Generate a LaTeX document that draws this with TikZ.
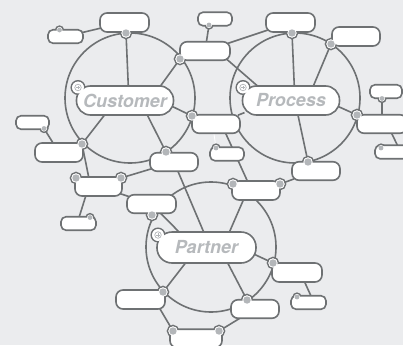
\documentclass[tikz,border=0pt]{standalone}
\usepackage{fontspec}
\newfontfamily\labelfont{TeX Gyre Heros}
\definecolor{bgc}{HTML}{EBECEE}
\definecolor{lnc}{HTML}{6E7173}
\definecolor{dotc}{HTML}{B3B6B9}
\definecolor{txc}{HTML}{B6B9BC}
\pgfdeclarelayer{bg}
\pgfdeclarelayer{ringl}
\pgfdeclarelayer{coverl}
\pgfdeclarelayer{top}
\pgfsetlayers{bg,ringl,main,coverl,top}
\tikzset{
  hub/.style={draw=lnc,fill=white,line width=1.6pt,rounded corners=14pt,minimum width=97pt,minimum height=29pt,inner sep=0pt,font=\labelfont\bfseries\itshape\fontsize{18}{18}\selectfont,text=txc},
  bbox/.style={draw=lnc,fill=white,line width=1.6pt,rounded corners=7pt,inner sep=0pt,minimum height=18.5pt},
  sbox/.style={draw=lnc,fill=white,line width=1.6pt,rounded corners=5pt,inner sep=0pt,minimum height=13.5pt},
  bdot/.style={circle,fill=dotc,inner sep=0pt,minimum size=7.4pt},
  sdot/.style={circle,fill=dotc,inner sep=0pt,minimum size=4.8pt},
  ringst/.style={fill=white,draw=lnc,line width=1.6pt},
  conn/.style={draw=lnc,line width=1.6pt,shorten <=-3pt,shorten >=-3pt},
  bigring/.style={circle,draw=lnc,line width=1.6pt,minimum size=130pt,inner sep=0pt},
  iconst/.style={circle,draw=dotc,line width=0.7pt,minimum size=6.5pt,inner sep=0pt}
}
\begin{document}
\begin{tikzpicture}[x=1pt,y=-1pt]
\useasboundingbox (0,0) rectangle (403,345);
% hubs
\node[hub] (cust) at (125,100.5) {Customer};
\node[hub] (proc) at (291,100.5) {Process};
\node[hub,minimum width=99pt,minimum height=31pt,rounded corners=15pt] (part) at (206.5,247.5) {Partner};
% big boxes
\node[bbox,minimum width=49pt,minimum height=19pt] (c1) at (124.5,22.5) {};
\node[bbox,minimum width=50pt] (c2) at (205,51) {};
\node[bbox,minimum width=48pt] (c3) at (216,124) {};
\node[bbox,minimum width=48pt] (c4) at (174,162) {};
\node[bbox,minimum width=48pt,minimum height=19pt] (c5) at (59,152.5) {};
\node[bbox,minimum width=47pt,minimum height=19pt] (c6) at (98.5,186.5) {};
\node[bbox,minimum width=49pt] (c7) at (151.5,204) {};
\node[bbox,minimum width=48pt,minimum height=19pt] (c8) at (256,190.5) {};
\node[bbox,minimum width=49pt,minimum height=19pt] (p1) at (290.5,22.5) {};
\node[bbox,minimum width=48pt,minimum height=19pt] (p2) at (356,36.5) {};
\node[bbox,minimum width=50pt] (p3) at (382,124) {};
\node[bbox,minimum width=48pt] (p4) at (316,171) {};
\node[bbox,minimum width=50pt,minimum height=19pt] (r1) at (297,272.5) {};
\node[bbox,minimum width=48pt] (r2) at (255,309) {};
\node[bbox,minimum width=49pt,minimum height=19pt] (r3) at (140.5,299.5) {};
\node[bbox,minimum width=52pt] (r4) at (196,338.5) {};
% small boxes
\node[sbox,minimum width=35pt] (s1) at (65.5,36.5) {};
\node[sbox,minimum width=34pt] (s2) at (215,19) {};
\node[sbox,minimum width=34pt] (s3) at (227,154) {};
\node[sbox,minimum width=33pt] (s5) at (32.5,122.5) {};
\node[sbox,minimum width=35pt] (s6) at (78.5,223.5) {};
\node[sbox,minimum width=32pt] (s7) at (386,91.5) {};
\node[sbox,minimum width=34pt] (s8) at (392,152) {};
\node[sbox,minimum width=35pt] (s9) at (308.5,302.5) {};
\begin{pgfonlayer}{top}
% big dots
\node[bdot] (c1d) at (126,33) {};
\node[bdot] (c2d) at (180,59) {};
\node[bdot] (c3d) at (192,116) {};
\node[bdot] (c4d) at (166,152) {};
\node[bdot] (c5d) at (82,144) {};
\node[bdot] (c6a) at (76,178) {};
\node[bdot] (c6b) at (121,178) {};
\node[bdot] (c7d) at (152,215) {};
\node[bdot] (c8a) at (233,184) {};
\node[bdot] (c8b) at (280,184) {};
\node[bdot] (p1d) at (292,33) {};
\node[bdot] (p2d) at (331,44) {};
\node[bdot] (p3d) at (357,115) {};
\node[bdot] (p4d) at (308,162) {};
\node[bdot] (r1d) at (273,263) {};
\node[bdot] (r2d) at (247,300) {};
\node[bdot] (r3d) at (163,292) {};
\node[bdot] (r4a) at (173,331) {};
\node[bdot] (r4b) at (219,331) {};
% small dots
\node[sdot] (s1d) at (59.5,30) {};
\node[sdot] (s2d) at (209,25) {};
\node[sdot] (s3d) at (216,148) {};
\node[sdot] (s5d) at (44,128.5) {};
\node[sdot] (s6d) at (90,217.5) {};
\node[sdot] (s7d) at (382,98.5) {};
\node[sdot] (s8d) at (381,148) {};
\node[sdot] (s9d) at (297,297) {};
% icons
\node[iconst] (custi) at (78,87.5) {};
\node[iconst] (proci) at (243,87.5) {};
\node[iconst] (parti) at (158,235) {};
\foreach \ic in {custi,proci,parti}{
  \draw[dotc,line width=0.6pt] ([xshift=-1.7pt]\ic.center) -- ([xshift=1.7pt]\ic.center);
  \draw[dotc,line width=0.6pt] ([yshift=-1.7pt]\ic.center) -- ([yshift=1.7pt]\ic.center);
}
\end{pgfonlayer}
\begin{pgfonlayer}{ringl}
\foreach \d in {c1d,c2d,c3d,c4d,c5d,c6a,c6b,c7d,c8a,c8b,p1d,p2d,p3d,p4d,r1d,r2d,r3d,r4a,r4b}{
  \path[ringst] (\d) circle (5.5pt);}
\foreach \d in {s1d,s2d,s3d,s5d,s6d,s7d,s8d,s9d}{
  \path[ringst] (\d) circle (3.8pt);}
\foreach \d in {custi,proci,parti}{
  \path[ringst] (\d) circle (6.7pt);}
\end{pgfonlayer}
\begin{pgfonlayer}{coverl}
\foreach \d in {c1d,c2d,c3d,c4d,c5d,c6a,c6b,c7d,c8a,c8b,p1d,p2d,p3d,p4d,r1d,r2d,r3d,r4a,r4b}{
  \fill[white] (\d) circle (4.7pt);}
\foreach \d in {s1d,s2d,s3d,s5d,s6d,s7d,s8d,s9d}{
  \fill[white] (\d) circle (3.0pt);}
\foreach \d in {custi,proci,parti}{
  \fill[white] (\d) circle (5.9pt);}
\end{pgfonlayer}
\begin{pgfonlayer}{bg}
\fill[bgc] (0,0) rectangle (403,345);
\node[bigring] (custring) at (130,98) {};
\node[bigring] (procring) at (295,98) {};
\node[bigring] (partring) at (211,247) {};
% spokes
\draw[conn] (c1d) -- (cust.78);
\draw[conn] (c2d) -- (cust.23);
\draw[conn] (c3d) -- (cust.-8);
\draw[conn] (c4d) -- (cust.-34);
\draw[conn] (c5d) -- (cust.-144);
\draw[conn] (p1d) -- (proc.78);
\draw[conn] (p2d) -- (proc.34);
\draw[conn] (p3d) -- (proc.-8);
\draw[conn] (p4d) -- (proc.-65);
\draw[conn] ([xshift=-2pt]c2.south east) -- (proc.156);
\draw[conn] (c3) -- (proc.-165);
\draw[conn] (c7) -- (part.150);
\draw[conn] (c4) -- (part.101);
\draw[conn] ([xshift=-13pt]c8.south) -- (part.35);
\draw[conn] (r1d) -- (part.-9);
\draw[conn] (r2d) -- (part.-37);
\draw[conn] (r3d) -- (part.-143);
% other links
\draw[conn] (c1) -- (s1);
\draw[conn] (s2d) -- (c2);
\draw[conn] (c2) -- (p1);
\draw[white,line width=0.8pt] ([xshift=-2pt]c3.south) -- (s3d);
\draw[conn] ([xshift=10pt]c3.south) -- ([xshift=-9pt]c8.north);
\draw[conn] (c4) -- (c6b);
\draw[conn] (s5d) -- (c5);
\draw[conn] (c5d) -- ([xshift=-10pt]c6.north);
\draw[conn] ([xshift=-13pt]c6.south) -- ([xshift=1pt]s6.north);
\draw[conn] (c6) -- (c7);
\draw[conn] (c8b) -- (p4);
\draw[conn] (s7d) -- (p3);
\draw[conn] ([xshift=10pt]p3.south) -- ([xshift=5pt]s8.north);
\draw[conn] ([xshift=8pt]r1.south) -- ([xshift=2pt]s9.north);
\draw[conn] (r2) -- (r4b);
\draw[conn] ([xshift=20pt]r3.south) -- (r4a);
\end{pgfonlayer}
\end{tikzpicture}
\end{document}
